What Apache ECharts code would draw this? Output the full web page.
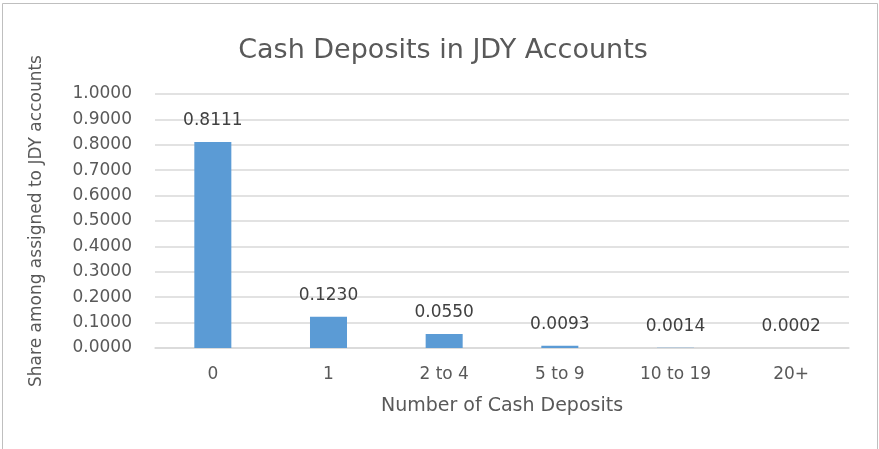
<!DOCTYPE html>
<html><head><meta charset="utf-8">
<script src="https://cdn.jsdelivr.net/npm/echarts@6/dist/echarts.min.js"></script>
<style>html,body{margin:0;padding:0;background:#fff}#c{width:879px;height:449px}</style>
</head><body><div id="c"></div>
<script>
const categories = ['0', '1', '2 to 4', '5 to 9', '10 to 19', '20+'];
const shares = [0.8111, 0.1230, 0.0550, 0.0093, 0.0014, 0.0002];
const yTicks = [0, 0.1, 0.2, 0.3, 0.4, 0.5, 0.6, 0.7, 0.8, 0.9, 1.0];

const FONT = 'DejaVu Sans';
const TXT = '#595959';
const chart = echarts.init(document.getElementById('c'));
chart.setOption({
  animation: false,
  backgroundColor: '#fff',
  textStyle: { fontFamily: FONT },
  graphic: [{
    type: 'rect', shape: { x: 2.5, y: 3.5, width: 875, height: 460 },
    style: { fill: 'none', stroke: '#BFBFBF', lineWidth: 1 }, silent: true, z: -1
  }],
  title: {
    text: 'Cash Deposits in JDY Accounts', left: 438, top: 32, textAlign: 'center',
    textStyle: { fontFamily: FONT, fontSize: 27, fontWeight: 'normal', color: TXT }
  },
  grid: { left: 155, right: 30, top: 94, bottom: 101, containLabel: false },
  xAxis: {
    type: 'category', data: categories,
    name: 'Number of Cash Deposits', nameLocation: 'middle', nameGap: 49,
    nameTextStyle: { fontFamily: FONT, fontSize: 19, color: TXT },
    axisLine: { lineStyle: { color: '#D9D9D9', width: 1.5 } },
    axisTick: { show: false },
    axisLabel: { fontFamily: FONT, fontSize: 17, color: TXT, margin: 18 }
  },
  yAxis: {
    type: 'value', min: yTicks[0], max: yTicks[yTicks.length - 1], interval: 0.1,
    name: 'Share among assigned to JDY accounts', nameLocation: 'middle', nameGap: 110,
    nameTextStyle: { fontFamily: FONT, fontSize: 17, color: TXT },
    axisLine: { show: false }, axisTick: { show: false },
    splitLine: { lineStyle: { color: '#D9D9D9', width: 1.5 } },
    axisLabel: { fontFamily: FONT, fontSize: 17, color: TXT, margin: 23,
      formatter: v => v.toFixed(4) }
  },
  series: [{
    type: 'bar', data: shares, barWidth: '32%',
    itemStyle: { color: '#5B9BD5' },
    label: { show: true, position: 'top', distance: 13, fontFamily: FONT, fontSize: 17, color: '#404040',
      formatter: p => p.value.toFixed(4) }
  }]
});
</script></body></html>
